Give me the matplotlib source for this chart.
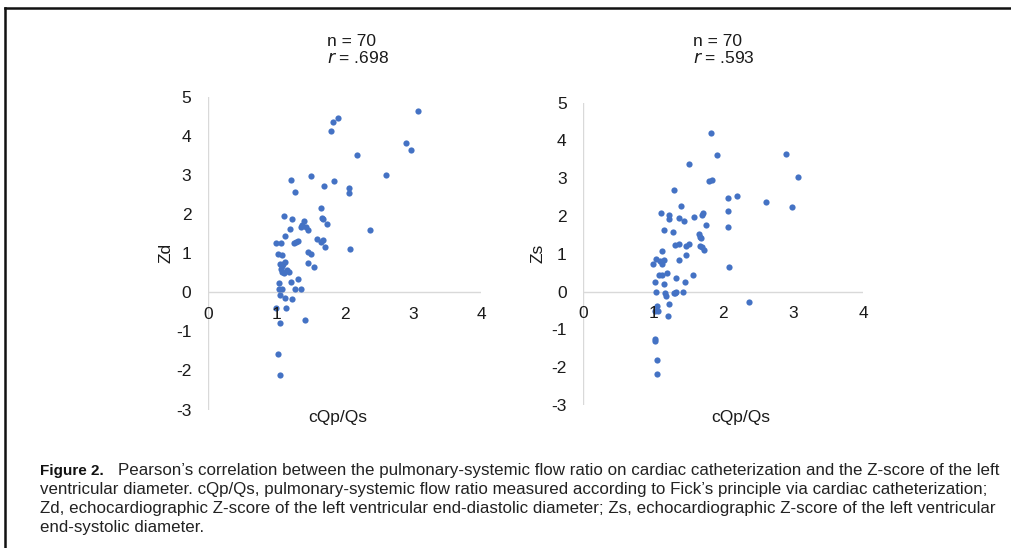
import matplotlib.pyplot as plt
from matplotlib.lines import Line2D

# cQp/Qs vs Zd (left panel)
zd_qpqs = [3.07, 1.91, 1.83, 1.80, 2.90, 2.98, 2.19, 2.61, 1.51, 1.21,
           1.84, 1.70, 2.07, 2.07, 1.28, 1.66, 1.11, 1.67, 1.69, 1.23,
           1.40, 1.74, 1.38, 1.36, 1.44, 1.20, 1.47, 2.37, 1.13, 1.59,
           1.69, 1.65, 1.00, 1.07, 1.29, 1.32, 1.26, 1.72, 2.08, 1.46,
           1.51, 1.03, 1.09, 1.13, 1.47, 1.06, 1.09, 1.56, 1.16, 1.09,
           1.12, 1.07, 1.32, 1.21, 1.04, 1.04, 1.09, 1.28, 1.36, 1.06,
           1.13, 1.23, 1.00, 1.15, 1.42, 1.06, 1.03, 1.05, 1.10, 1.18]
zd = [4.63, 4.46, 4.36, 4.11, 3.82, 3.63, 3.50, 3.00, 2.96, 2.86,
      2.84, 2.71, 2.67, 2.54, 2.55, 2.16, 1.96, 1.91, 1.86, 1.86,
      1.83, 1.75, 1.73, 1.67, 1.67, 1.62, 1.58, 1.60, 1.43, 1.36,
      1.33, 1.29, 1.26, 1.26, 1.28, 1.30, 1.26, 1.16, 1.11, 1.04,
      0.97, 0.97, 0.94, 0.77, 0.74, 0.71, 0.66, 0.65, 0.56, 0.51,
      0.48, 0.60, 0.35, 0.26, 0.24, 0.07, 0.07, 0.09, 0.07, -0.08,
      -0.14, -0.18, -0.41, -0.41, -0.71, -0.78, -1.58, -2.12, 0.73, 0.52]

# cQp/Qs vs Zs (right panel)
zs_qpqs = [1.83, 1.91, 2.90, 1.51, 3.07, 1.84, 1.80, 1.29, 2.20, 2.07,
           2.61, 2.98, 1.40, 2.07, 1.11, 1.71, 1.70, 1.23, 1.22, 1.37,
           1.44, 1.59, 1.75, 2.07, 1.15, 1.28, 1.66, 1.67, 1.69, 1.51,
           1.37, 1.31, 1.47, 1.67, 1.70, 1.72, 1.13, 1.47, 1.04, 1.09,
           1.15, 1.37, 0.99, 1.12, 2.08, 1.20, 1.08, 1.12, 1.57, 1.33,
           1.03, 1.46, 1.15, 1.04, 1.17, 1.18, 1.29, 1.33, 1.43, 1.23,
           2.37, 1.05, 1.07, 1.02, 1.21, 1.03, 1.03, 1.06, 1.05, 1.31]
zs = [4.19, 3.62, 3.65, 3.39, 3.04, 2.95, 2.92, 2.68, 2.52, 2.48,
      2.37, 2.23, 2.27, 2.14, 2.08, 2.08, 2.04, 2.04, 1.93, 1.94,
      1.88, 1.97, 1.76, 1.71, 1.62, 1.59, 1.52, 1.45, 1.41, 1.27,
      1.27, 1.24, 1.22, 1.22, 1.17, 1.10, 1.08, 0.97, 0.87, 0.82,
      0.83, 0.83, 0.73, 0.74, 0.65, 0.49, 0.45, 0.45, 0.43, 0.36,
      0.26, 0.26, 0.20, 0.00, -0.03, -0.11, -0.04, -0.01, 0.00, -0.32,
      -0.27, -0.38, -0.50, -0.50, -0.64, -1.25, -1.31, -1.80, -2.18, -0.03]

x_ticks = [0, 1, 2, 3, 4]
y_ticks = [-3, -2, -1, 0, 1, 2, 3, 4, 5]

W, H = 1012, 548
fig = plt.figure(figsize=(W / 100, H / 100), dpi=100)
plt.rcParams['font.family'] = ['Liberation Sans', 'DejaVu Sans']

blue = '#4472C4'
grid = '#d9d9d9'
txt = '#1a1a1a'


def px_axes(x0, y0, x1, y1):
    # pixel box (top-left origin) -> figure fraction
    return fig.add_axes([x0 / W, 1 - y1 / H, (x1 - x0) / W, (y1 - y0) / H])


def panel(ax, xs, ys, ylab, ylab_x, xlab_x, xlab_y):
    ax.scatter(xs, ys, s=20, color=blue, linewidths=0, zorder=3)
    ax.set_xlim(0, 4)
    ax.set_ylim(-3, 5)
    for s in ax.spines.values():
        s.set_visible(False)
    ax.axvline(0, color=grid, lw=1, zorder=1)
    ax.axhline(0, color=grid, lw=1, zorder=1)
    ax.set_xticks([])
    ax.set_yticks(y_ticks)
    ax.set_yticklabels([str(v) for v in y_ticks])
    ax.tick_params(axis='y', length=0, pad=12, labelsize=12.5, labelcolor=txt)
    for v in x_ticks:
        ax.annotate(str(v), (v, 0), xytext=(0, -10.5), textcoords='offset points',
                    ha='center', va='top', fontsize=12.5, color=txt)
    ax.set_ylabel(ylab, fontsize=12.5, color=txt)
    ax.yaxis.set_label_coords(ylab_x, 0.5)
    ax.text(xlab_x, xlab_y, 'cQp/Qs', transform=ax.transAxes,
            ha='center', va='center', fontsize=12.5, color=txt)
    ax.patch.set_alpha(0)


ax1 = px_axes(208, 96.7, 481, 409.5)
panel(ax1, zd_qpqs, zd, 'Zd', -0.125, 0.476, -0.027)
ax2 = px_axes(583.3, 102.7, 863, 405)
panel(ax2, zs_qpqs, zs, 'Zs', -0.135, 0.564, -0.043)

# panel headers
for x0, r in [(327, '.698'), (693, '.593')]:
    fig.text(x0 / W, 1 - 46 / H, 'n = 70', ha='left', va='baseline',
             fontsize=12.5, color=txt)
    fig.text(x0 / W, 1 - 63 / H, '$r$ = ' + r, ha='left', va='baseline',
             fontsize=12.5, color=txt)

# caption
fig.text(40 / W, 1 - 475 / H, 'Figure 2.', ha='left', va='baseline',
         fontsize=11, fontweight='bold', color='#111111')
cap = [
    (118, 475, "Pearson\u2019s correlation between the pulmonary-systemic flow ratio on cardiac catheterization and the Z-score of the left"),
    (40, 494, "ventricular diameter. cQp/Qs, pulmonary-systemic flow ratio measured according to Fick\u2019s principle via cardiac catheterization;"),
    (40, 513, "Zd, echocardiographic Z-score of the left ventricular end-diastolic diameter; Zs, echocardiographic Z-score of the left ventricular"),
    (40, 532, "end-systolic diameter."),
]
for x0, y0, line in cap:
    fig.text(x0 / W, 1 - y0 / H, line, ha='left', va='baseline',
             fontsize=12.2, color='#222222')

# frame: top rule and left rule
fig.add_artist(Line2D([5 / W, 1], [1 - 8 / H, 1 - 8 / H], color='#111111', lw=1.8,
                      transform=fig.transFigure))
fig.add_artist(Line2D([5 / W, 5 / W], [0, 1 - 8 / H], color='#111111', lw=1.8,
                      transform=fig.transFigure))

fig.savefig('out.png', dpi=100)
